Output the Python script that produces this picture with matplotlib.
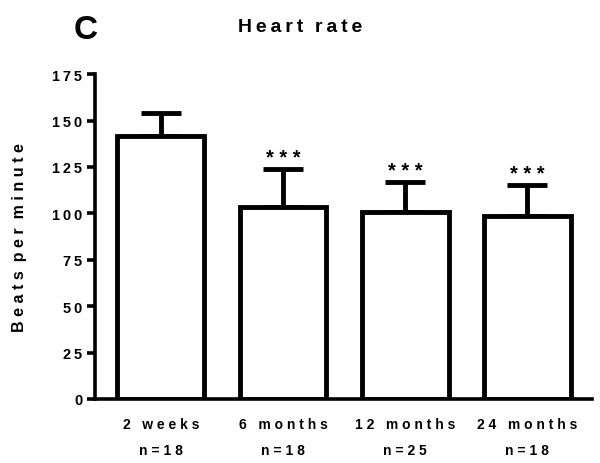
import matplotlib
matplotlib.use("Agg")
import matplotlib.pyplot as plt
from matplotlib.transforms import blended_transform_factory

plt.rcParams['font.family'] = ['Liberation Sans', 'DejaVu Sans']
plt.rcParams['font.weight'] = 'bold'

groups = ["2 weeks", "6 months", "12 months", "24 months"]
n_labels = ["n=18", "n=18", "n=25", "n=18"]
means = [141.5, 103.6, 100.7, 98.7]
sd = [12.4, 20.4, 16.3, 16.4]
signif = ["", "***", "***", "***"]
yticks = [0, 25, 50, 75, 100, 125, 150, 175]

TS = "\u2009"  # thin space used as letter spacing


def spaced(s, sep=TS, wsep=None):
    if wsep is None:
        wsep = sep * 3
    words = s.split(" ")
    return wsep.join(sep.join(list(w)) for w in words)


fig = plt.figure(figsize=(6.0, 4.64), dpi=100)
ax = fig.add_axes([0.158, 0.138, 0.829, 0.700])

x = list(range(len(groups)))
ax.bar(x, means, width=0.71, color="white", edgecolor="black", linewidth=3.5, zorder=2)
ax.errorbar(x, means, yerr=[[0] * len(sd), sd], fmt="none", ecolor="black",
            elinewidth=3.5, capsize=14.5, capthick=3.5, zorder=1)

for xi, m, s, lab in zip(x, means, sd, signif):
    if lab:
        ax.text(xi, m + s + 1.0, " ".join(lab), ha="center", va="bottom",
                fontsize=14.5, fontweight="bold")

ax.set_xlim(-0.54, 3.53)
ax.set_ylim(0, 175)
ax.set_yticks(yticks)
ax.set_yticklabels([spaced(str(t)) for t in yticks], fontsize=10.5, fontweight="bold")
ax.set_xticks([])

for side in ["top", "right"]:
    ax.spines[side].set_visible(False)
ax.spines["left"].set_linewidth(2.6)
ax.spines["bottom"].set_linewidth(2.6)
ax.tick_params(axis="y", length=6, width=2.6, pad=3)

trans = blended_transform_factory(ax.transData, ax.transAxes)
for xi, g, nl in zip(x, groups, n_labels):
    ax.text(xi, -0.077, spaced(g, " ", "   "), transform=trans, ha="center",
            va="center", fontsize=10, fontweight="bold")
    ax.text(xi, -0.157, spaced(nl, " "), transform=trans, ha="center",
            va="center", fontsize=10, fontweight="bold")

ax.set_ylabel(spaced("Beats per minute", " ", "  "), fontsize=11.5,
              fontweight="bold", labelpad=18)

fig.text(0.5, 0.94, spaced("Heart rate"), ha="center", va="center",
         fontsize=14, fontweight="bold")
fig.text(0.142, 0.935, "C", ha="center", va="center", fontsize=24, fontweight="bold")

fig.savefig("out.png", dpi=100)
